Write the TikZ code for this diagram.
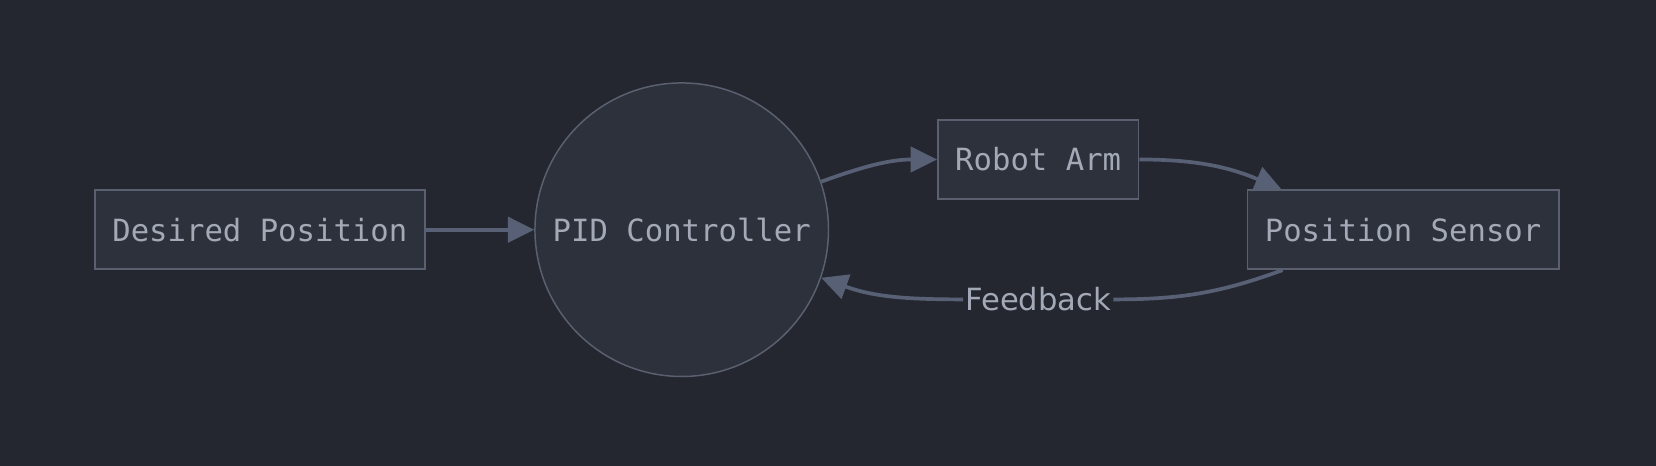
\documentclass[tikz,border=0pt]{standalone}
\usepackage{fontspec}
\newfontfamily\monofont{DejaVu Sans Mono}
\newfontfamily\labelfont{DejaVu Sans}
\usetikzlibrary{arrows.meta,calc}
\definecolor{bgcol}{HTML}{24272F}
\definecolor{nodefill}{HTML}{2D313B}
\definecolor{nodeline}{HTML}{5A6070}
\definecolor{textcol}{HTML}{A3A9B6}
\definecolor{edgecol}{HTML}{586075}
\begin{document}
\begin{tikzpicture}[x=0.02cm,y=0.02cm,
    block/.style={draw=nodeline,fill=nodefill,line width=0.9pt,text=textcol,
      font=\monofont\fontsize{16.5}{20}\selectfont,minimum height=1.5cm,inner xsep=0.33cm},
    ctrl/.style={circle,draw=nodeline,fill=nodefill,line width=0.8pt,text=textcol,
      font=\monofont\fontsize{16.5}{20}\selectfont,minimum size=5.56cm,inner sep=0pt},
    edge/.style={draw=edgecol,line width=2pt,-{Triangle[length=0.5cm,width=0.48cm]}},
    fblabel/.style={text=textcol,font=\labelfont\fontsize{16.5}{20}\selectfont,inner sep=1pt}]
	\fill [bgcol] (0,0) rectangle (1568,-441.2);
	\useasboundingbox (0,0) rectangle (1568,-441.2);
	% nodes
	\node [block] (desired) at (246,-217.5) {Desired Position};
	\node [ctrl] (pid) at (645.5,-217.5) {PID Controller};
	\node [block] (arm) at (983,-151) {Robot Arm};
	\node [block] (sensor) at (1328.5,-217.5) {Position Sensor};
	\node [fblabel] (fb) at (983,-283.5) {Feedback};
	\coordinate (armin) at ($(sensor.north west)+(33,0)$);
	\coordinate (fbout) at ($(sensor.south west)+(34,0)$);
	% connectors
	\draw [edge] (desired.east) -- (pid.west);
	\draw [edge] (pid.19) to[out=20,in=180] (arm.west);
	\draw [edge] (arm.east) to[out=0,in=157] (armin);
	\draw [draw=edgecol,line width=2pt] (fbout) to[out=200,in=0] (fb.east);
	\draw [edge] (fb.west) to[out=180,in=-20] (pid.-19);
\end{tikzpicture}
\end{document}
